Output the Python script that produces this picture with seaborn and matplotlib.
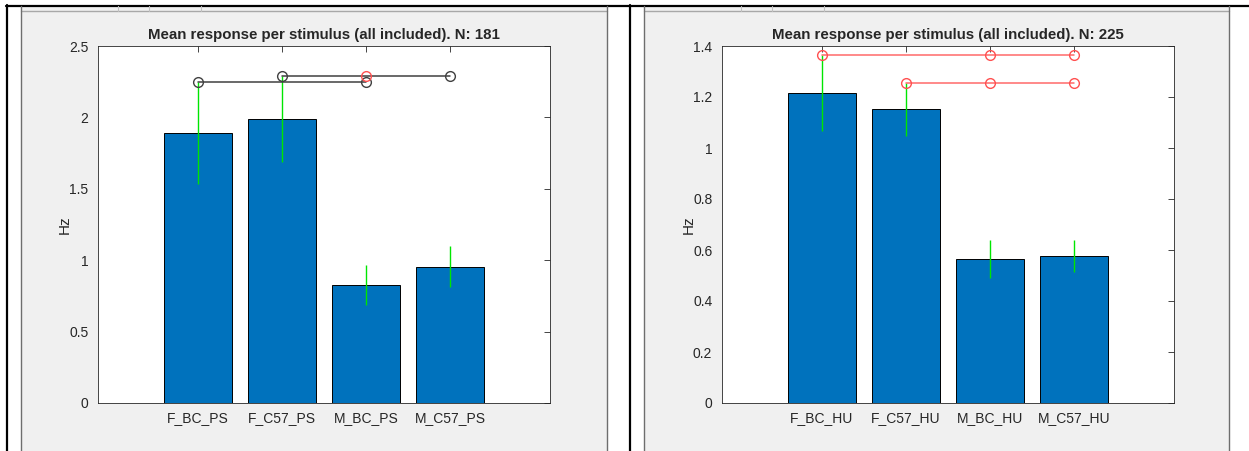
import numpy as np
import pandas as pd
import matplotlib
matplotlib.use("Agg")
import matplotlib.pyplot as plt
import seaborn as sns
from matplotlib.patches import Rectangle
from matplotlib.lines import Line2D
from matplotlib.ticker import FormatStrFormatter

# ============================================================
# Données
# ============================================================

labels_ps = ["F_BC_PS", "F_C57_PS", "M_BC_PS", "M_C57_PS"]
mean_ps = [1.89, 1.99, 0.826, 0.955]
err_ps = [0.355, 0.30, 0.14, 0.145]
n_ps = 181
sig_ps_y = [2.245, 2.29]
sig_ps_x = [[0, 2], [1, 2, 3]]
sig_ps_mk = [["#404040", "#404040"], ["#404040", "#ff5050", "#404040"]]
sig_ps_line = "#404040"
ticks_ps = [0, 0.5, 1, 1.5, 2, 2.5]

labels_hu = ["F_BC_HU", "F_C57_HU", "M_BC_HU", "M_C57_HU"]
mean_hu = [1.215, 1.152, 0.565, 0.576]
err_hu = [0.15, 0.103, 0.075, 0.064]
n_hu = 225
sig_hu_y = [1.365, 1.255]
sig_hu_x = [[0, 2, 3], [1, 2, 3]]
sig_hu_mk = [["#ff5050"] * 3, ["#ff5050"] * 3]
sig_hu_line = "#ff6a6a"
ticks_hu = [0, 0.2, 0.4, 0.6, 0.8, 1.0, 1.2, 1.4]

W, H = 1249, 451

sns.set_style("white")
plt.rcParams["font.family"] = ["Liberation Sans", "DejaVu Sans"]

fig = plt.figure(figsize=(W / 100, H / 100), dpi=100)
fig.patch.set_facecolor("white")


def fx(x):
    return x / W


def fy(y):
    return 1 - y / H


def fline(xs, ys, **kw):
    fig.add_artist(Line2D([fx(v) for v in xs], [fy(v) for v in ys], zorder=-0.5, **kw))


# fond type "capture d'écran" (cadres noirs + fenêtres grises)
fline([6, 1249], [5.5, 5.5], color="black", lw=1.6)
for xb in [7, 630]:
    fline([xb, xb], [5, 451], color="black", lw=1.6)

for x0, x1 in [(21, 607), (644, 1229)]:
    fig.add_artist(Rectangle((fx(x0), 0), fx(x1 - x0), fy(6), transform=fig.transFigure,
                             facecolor="#f0f0f0", edgecolor="none", zorder=-1))
    fline([x0, x1], [11, 11], color="#a8a8a8", lw=1)
    for xe in [x0, x1]:
        fline([xe, xe], [6, 451], color="#6e6e6e", lw=1)
    for xt in [97, 128, 180]:
        fline([x0 + xt, x0 + xt], [6, 11], color="#c0c0c0", lw=0.8)


def panel(left_px, labels, means, errs, n, ylim, ticks, sig_y, sig_x, sig_mk, sig_line):
    ax = fig.add_axes([fx(left_px), fy(403), fx(452), fy(46) - fy(403)])
    df = pd.DataFrame({"stim": labels, "Hz": means})
    sns.barplot(data=df, x="stim", y="Hz", color="#0072BD", saturation=1, width=0.8,
                edgecolor="black", linewidth=0.7, ax=ax, zorder=2)
    x = np.arange(len(labels))
    lo = np.array(means) - np.array(errs)
    hi = np.array(means) + np.array(errs)
    ax.vlines(x, lo, hi, color="#00e600", lw=1, zorder=3)
    for yy, xs, mks in zip(sig_y, sig_x, sig_mk):
        ax.plot([xs[0], xs[-1]], [yy, yy], color=sig_line, lw=1.1, zorder=4)
        for xi, c in zip(xs, mks):
            ax.plot(xi, yy, "o", ms=7, mfc="none", mec=c, mew=1, zorder=5)
    ax.set_xlim(-1.19, 3 + 1.19)
    ax.set_ylim(*ylim)
    ax.set_yticks(ticks)
    ax.yaxis.set_major_formatter(FormatStrFormatter("%g"))
    ax.set_xlabel("")
    ax.set_ylabel("Hz", fontsize=11, color="#262626", labelpad=-2)
    ax.set_title(f"Mean response per stimulus (all included). N: {n}",
                 fontsize=10.8, fontweight="bold", pad=5)
    ax.tick_params(direction="in", top=True, right=True, length=4, width=0.6,
                   colors="#262626", labelsize=10, pad=7)
    ax.tick_params(axis="x", pad=6)
    for s in ax.spines.values():
        s.set_color("#262626")
        s.set_linewidth(0.6)
    ax.set_facecolor("white")
    return ax


panel(98, labels_ps, mean_ps, err_ps, n_ps, (0, 2.5), ticks_ps,
      sig_ps_y, sig_ps_x, sig_ps_mk, sig_ps_line)
panel(722, labels_hu, mean_hu, err_hu, n_hu, (0, 1.4), ticks_hu,
      sig_hu_y, sig_hu_x, sig_hu_mk, sig_hu_line)

fig.savefig("out.png", dpi=100)
